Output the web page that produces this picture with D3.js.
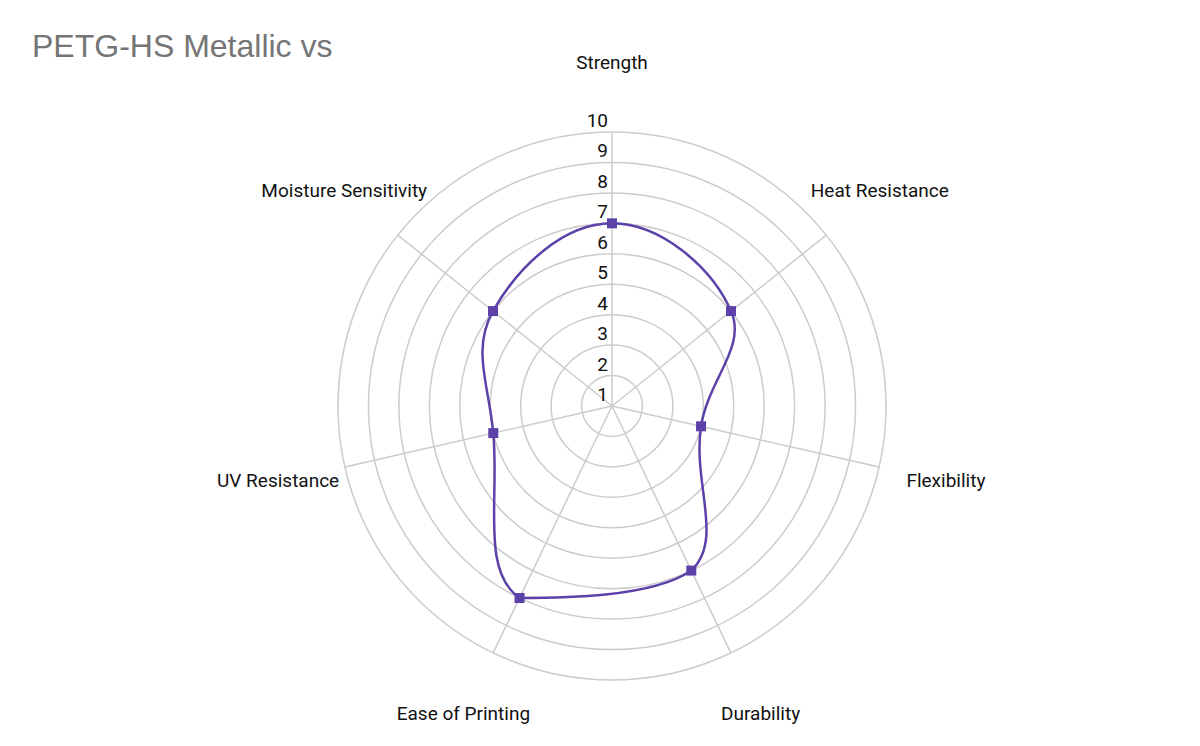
<!DOCTYPE html>
<html>
<head>
<meta charset="utf-8">
<script src="https://cdn.jsdelivr.net/npm/d3@7"></script>
<style>
  body { margin: 0; background: #fff; }
  svg { display: block; }
</style>
</head>
<body>
<div id="wrapper"></div>
<script>
// chart data
const axes = ['Strength', 'Heat Resistance', 'Flexibility', 'Durability', 'Ease of Printing', 'UV Resistance', 'Moisture Sensitivity'];
const values = [7, 6, 4, 7, 8, 5, 6];
const tickValues = [1, 2, 3, 4, 5, 6, 7, 8, 9, 10];

const width = 1200, height = 746;
const cx = 612, cy = 406;
const outer = 274;
const labelRadius = 342.5;
const purple = '#5c42a8';

const r = d3.scaleLinear().domain([1, 10]).range([0, outer]);
const angle = d3.scaleLinear().domain([0, axes.length]).range([0, 2 * Math.PI]);

function pt(i, v) {
    let a = angle(i);
    return [Math.sin(a) * r(v), -Math.cos(a) * r(v)];
}

// closed spline, control points weighted by segment length,
// kept from dipping below the lowest point
function smoothClosed(t) {
    return function (context) {
        let pts = [];
        return {
            areaStart() {}, areaEnd() {},
            lineStart() { pts = []; },
            point(x, y) { pts.push([+x, +y]); },
            lineEnd() {
                let n = pts.length, cps = [];
                let maxY = d3.max(pts, p => p[1]);
                for (let i = 0; i < n; i++) {
                    let p = pts[i], a = pts[(i + n - 1) % n], b = pts[(i + 1) % n];
                    let d0 = Math.hypot(p[0] - a[0], p[1] - a[1]);
                    let d1 = Math.hypot(p[0] - b[0], p[1] - b[1]);
                    let vx = (b[0] - a[0]) * t, vy = (b[1] - a[1]) * t;
                    let s0 = d0 / (d0 + d1), s1 = d1 / (d0 + d1);
                    let c0 = [p[0] - vx * s0, Math.min(p[1] - vy * s0, maxY)];
                    let c1 = [p[0] + vx * s1, Math.min(p[1] + vy * s1, maxY)];
                    cps.push([c0, c1]);
                }
                context.moveTo(pts[0][0], pts[0][1]);
                for (let i = 0; i < n; i++) {
                    let j = (i + 1) % n;
                    context.bezierCurveTo(cps[i][1][0], cps[i][1][1], cps[j][0][0], cps[j][0][1], pts[j][0], pts[j][1]);
                }
                context.closePath();
            }
        };
    };
}

const svg = d3.select('#wrapper')
    .append('svg')
    .attr('width', width)
    .attr('height', height);

svg.append('text')
    .attr('x', 32)
    .attr('y', 57)
    .style('font-family', '"Liberation Sans", Arial, sans-serif')
    .style('font-size', '32px')
    .style('fill', '#757575')
    .text('PETG-HS Metallic vs');

const g = svg.append('g').attr('transform', `translate(${cx},${cy})`);

// rings
g.selectAll('circle.ring')
    .data(tickValues.filter(d => d > 1))
    .enter()
    .append('circle')
    .attr('class', 'ring')
    .attr('r', d => r(d))
    .style('fill', 'none')
    .style('stroke', '#cccccc')
    .style('stroke-width', 1.5);

// spokes
g.selectAll('line.spoke')
    .data(axes)
    .enter()
    .append('line')
    .attr('x1', 0)
    .attr('y1', 0)
    .attr('x2', (d, i) => pt(i, 10)[0])
    .attr('y2', (d, i) => pt(i, 10)[1])
    .style('stroke', '#cccccc')
    .style('stroke-width', 1.5);

// axis labels
g.selectAll('text.axis')
    .data(axes)
    .enter()
    .append('text')
    .attr('x', (d, i) => Math.sin(angle(i)) * labelRadius)
    .attr('y', (d, i) => -Math.cos(angle(i)) * labelRadius - 1.5)
    .attr('text-anchor', 'middle')
    .attr('dominant-baseline', 'central')
    .style('font-family', 'Roboto, sans-serif')
    .style('font-size', '19px')
    .style('fill', '#111')
    .text(d => d);

// series line
const line = d3.lineRadial()
    .angle((d, i) => angle(i))
    .radius(d => r(d))
    .curve(smoothClosed(0.4));

g.append('path')
    .datum(values)
    .attr('d', line)
    .style('fill', 'none')
    .style('stroke', purple)
    .style('stroke-width', 2.5);

g.selectAll('rect.marker')
    .data(values)
    .enter()
    .append('rect')
    .attr('x', (d, i) => pt(i, d)[0] - 5)
    .attr('y', (d, i) => pt(i, d)[1] - 5)
    .attr('width', 10)
    .attr('height', 10)
    .style('fill', purple);

// tick labels
g.selectAll('text.tick')
    .data(tickValues)
    .enter()
    .append('text')
    .attr('x', -4)
    .attr('y', d => -r(d) - 5)
    .attr('text-anchor', 'end')
    .style('font-family', 'Roboto, sans-serif')
    .style('font-size', '19px')
    .style('fill', '#111')
    .text(d => d);
</script>
</body>
</html>
